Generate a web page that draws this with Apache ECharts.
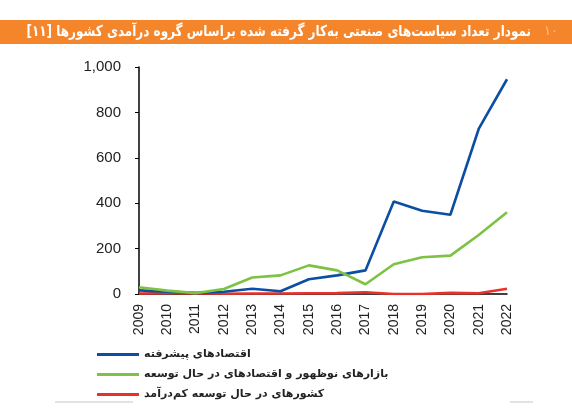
<!DOCTYPE html>
<html>
<head>
<meta charset="utf-8">
<script src="https://cdn.jsdelivr.net/npm/echarts@6/dist/echarts.min.js"></script>
<style>
  html, body { margin: 0; padding: 0; background: #fff; }
  #chart { width: 572px; height: 413px; }
</style>
</head>
<body>
<div id="chart"></div>
<script>
const years = ["2009", "2010", "2011", "2012", "2013", "2014", "2015", "2016", "2017", "2018", "2019", "2020", "2021", "2022"];
const advanced = [16, 10, 5, 10, 23, 12, 65, 82, 104, 407, 367, 349, 727, 946];
const emerging = [30, 15, 4, 22, 73, 82, 126, 104, 43, 131, 162, 169, 260, 360];
const lowIncome = [2, 4, 3, 1, 2, 2, 3, 4, 8, 0, 0, 5, 3, 23];
const seriesNames = [
  "اقتصادهای پیشرفته",
  "بازارهای نوظهور و اقتصادهای در حال توسعه",
  "کشورهای در حال توسعه کم‌درآمد"
];
// RLE ... PDF so the bracketed number lands on the left like the original
const titleText = "\u202Bنمودار تعداد سیاست‌های صنعتی به‌کار گرفته شده براساس گروه درآمدی کشورها [۱۱]\u202C";

const chart = echarts.init(document.getElementById("chart"));

const mkLine = (name, data, color) => ({
  name: name,
  type: "line",
  data: data,
  symbol: "none",
  smooth: false,
  lineStyle: { color: color, width: 2.6 },
  itemStyle: { color: color },
  z: name === seriesNames[2] ? 1 : 2
});

let option = {
  animation: false,
  graphic: [
    {
      type: "rect",
      shape: { x: 0, y: 20, width: 572, height: 24 },
      style: { fill: "#F4852A" },
      silent: true
    },
    {
      type: "text",
      x: 531,
      y: 32,
      originX: 0,
      originY: 0,
      scaleX: 0.8,
      style: {
        x: 0,
        y: 0,
        text: titleText,
        fill: "#fff",
        align: "right",
        verticalAlign: "middle",
        font: "bold 15px 'DejaVu Sans'"
      }
    },
    {
      type: "text",
      x: 558,
      y: 32,
      style: {
        text: "۱۰",
        fill: "rgba(255,255,255,0.45)",
        align: "right",
        verticalAlign: "middle",
        font: "13px 'DejaVu Sans'"
      }
    },
    {
      type: "line",
      shape: { x1: 55, y1: 402, x2: 133, y2: 402 },
      style: { stroke: "#c8c8c8", lineWidth: 1 }
    },
    {
      type: "line",
      shape: { x1: 510, y1: 402, x2: 533, y2: 402 },
      style: { stroke: "#c8c8c8", lineWidth: 1 }
    }
  ],
  grid: {
    left: 139,
    right: 65,
    top: 67,
    bottom: 119,
    containLabel: false
  },
  legend: {
    orient: "vertical",
    left: 92,
    top: 344,
    itemGap: 9,
    itemWidth: 42,
    itemHeight: 3,
    icon: "rect",
    data: seriesNames,
    textStyle: {
      fontFamily: "DejaVu Sans",
      fontWeight: "bold",
      fontSize: 11,
      color: "#222"
    }
  },
  xAxis: {
    type: "category",
    data: years,
    boundaryGap: false,
    axisLine: { lineStyle: { color: "#000", width: 1.5 } },
    axisTick: { show: false },
    axisLabel: {
      rotate: 90,
      margin: 10,
      interval: 0,
      color: "#222",
      fontFamily: "Liberation Sans",
      fontSize: 14
    }
  },
  yAxis: {
    type: "value",
    min: 0,
    max: 1000,
    interval: 200,
    axisLine: { show: true, lineStyle: { color: "#000", width: 1.5 } },
    axisTick: { show: true, inside: false, length: 4, lineStyle: { color: "#000" } },
    splitLine: { show: false },
    axisLabel: {
      margin: 18,
      color: "#222",
      fontFamily: "Liberation Sans",
      fontSize: 15,
      formatter: v => v.toLocaleString("en-US")
    }
  },
  series: [
    mkLine(seriesNames[0], advanced, "#0B4EA2"),
    mkLine(seriesNames[1], emerging, "#7DC242"),
    mkLine(seriesNames[2], lowIncome, "#E8312A")
  ]
};

chart.setOption(option);
</script>
</body>
</html>
